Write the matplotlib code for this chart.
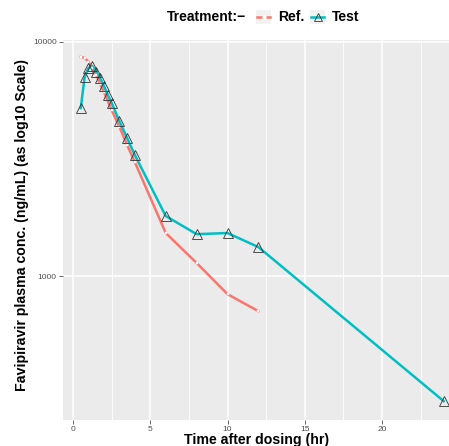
import matplotlib
matplotlib.use("Agg")
import matplotlib.pyplot as plt
import numpy as np
from matplotlib.lines import Line2D
from matplotlib.patches import Rectangle

plt.rcParams['font.family'] = ['Liberation Sans', 'DejaVu Sans']

# data
ref_time = [0.5, 0.75, 1.0, 1.25, 1.5, 1.75, 2.0, 2.5, 3.0, 3.5, 4.0, 6.0, 8.0, 10.0, 12.0]
ref_conc = [8630, 8560, 8220, 7740, 7230, 6620, 6110, 5120, 4340, 3630, 3070, 1527, 1138, 837, 708]

test_time = [0.5, 0.75, 1.0, 1.25, 1.5, 1.75, 2.0, 2.25, 2.5, 3.0, 3.5, 4.0, 6.0, 8.0, 10.0, 12.0, 24.0]
test_conc = [5220, 7080, 7740, 7890, 7450, 7020, 6490, 5940, 5490, 4590, 3890, 3290, 1805, 1510, 1527, 1330, 292]

x_ticks = [0, 5, 10, 15, 20]
x_minor = [2.5, 7.5, 12.5, 17.5, 22.5]
y_ticks = [1000, 10000]

red = '#F8766D'
cyan = '#00BFC4'

W, H = 449, 446
fig = plt.figure(figsize=(W / 100, H / 100), dpi=100)
ax = fig.add_axes([63 / W, 26 / H, (W - 63) / W, 380 / H])
ax.set_facecolor('#EBEBEB')

ax.set_yscale('log')
ax.set_xlim(-0.65, 24.34)
ax.set_ylim(10 ** 2.385, 10 ** 4.0085)

for v in x_ticks:
    ax.axvline(v, color='white', lw=1.1, zorder=0)
for v in x_minor:
    ax.axvline(v, color='white', lw=0.6, zorder=0)
for v in y_ticks:
    ax.axhline(v, color='white', lw=1.1, zorder=0)

ax.plot(ref_time, ref_conc, color=red, lw=1.8, zorder=2)
ax.plot(ref_time, ref_conc, 's', ms=1.6, mfc='white', mec='white', mew=0.3, zorder=3)
ax.plot(test_time, test_conc, color=cyan, lw=1.8, zorder=2)
ax.plot(test_time, test_conc, '^', ms=6.5, mfc='none', mec='#333333', mew=0.6, zorder=4)

ax.set_xticks(x_ticks)
ax.set_xticklabels([str(t) for t in x_ticks])
ax.set_yticks(y_ticks)
ax.set_yticklabels(['1000', '10000'])
ax.xaxis.set_minor_locator(matplotlib.ticker.NullLocator())
ax.yaxis.set_minor_locator(matplotlib.ticker.NullLocator())
ax.tick_params(axis='both', labelsize=6, colors='#4D4D4D', length=3, width=0.6, pad=1.5)
for s in ax.spines.values():
    s.set_visible(False)

fig.text(257 / W, 1 - 440 / H, 'Time after dosing (hr)', ha='center', va='center',
         fontsize=10.2, fontweight='bold')
fig.text(22 / W, 1 - 225 / H, 'Favipiravir plasma conc. (ng/mL) (as log10 Scale)',
         ha='center', va='center', rotation=90, fontsize=10.2, fontweight='bold')

# legend on top
ly = 1 - 17 / H
fig.text(167 / W, ly, 'Treatment:\u2212', ha='left', va='center', fontsize=10, fontweight='bold')
keys = [(256, 'Ref.', red, 'o', 'white', 'white', 2.5), (310, 'Test', cyan, '^', 'none', '#333333', 6)]
for kx, lab, col, mk, mfc, mec, ms in keys:
    fig.add_artist(Rectangle((kx / W, (H - 24) / H), 15 / W, 14 / H, transform=fig.transFigure,
                             facecolor='#F2F2F2', edgecolor='none'))
    fig.add_artist(Line2D([(kx + 1) / W, (kx + 14) / W], [ly, ly], transform=fig.transFigure,
                          color=col, lw=1.8))
    fig.add_artist(Line2D([(kx + 7.5) / W], [ly], transform=fig.transFigure, marker=mk,
                          ms=ms, mfc=mfc, mec=mec, mew=0.6, linestyle='none'))
    fig.text((kx + 22) / W, ly, lab, ha='left', va='center', fontsize=10, fontweight='bold')

fig.savefig('out.png', dpi=100)
